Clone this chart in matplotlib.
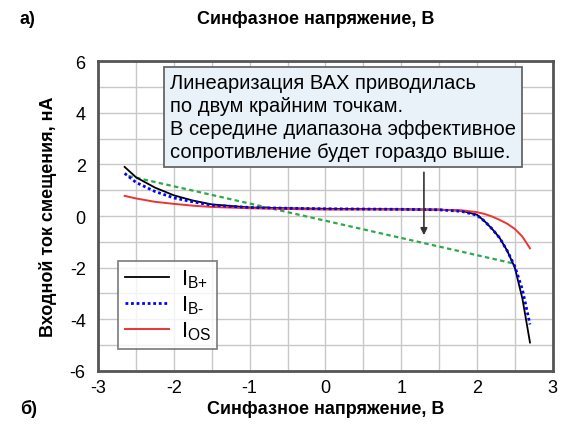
import matplotlib.pyplot as plt
import numpy as np

plt.rcParams['font.family'] = ['Liberation Sans', 'DejaVu Sans']
plt.rcParams['mathtext.fontset'] = 'custom'
plt.rcParams['mathtext.rm'] = 'Liberation Sans'

# data
x_v = [-2.65, -2.5, -2.25, -2.0, -1.75, -1.5, -1.0, -0.5, 0.0, 0.5, 1.0, 1.5,
       1.8, 2.0, 2.1, 2.2, 2.3, 2.4, 2.5, 2.6, 2.7]
ib_plus = [1.9, 1.5, 1.1, 0.8, 0.6, 0.45, 0.33, 0.3, 0.28, 0.27, 0.26, 0.25,
           0.2, 0.05, -0.2, -0.5, -0.85, -1.35, -2.0, -3.2, -4.9]
ib_minus = [1.65, 1.3, 0.95, 0.7, 0.55, 0.42, 0.33, 0.3, 0.28, 0.27, 0.26, 0.24,
            0.18, 0.03, -0.2, -0.5, -0.85, -1.35, -1.95, -2.85, -4.2]
i_os = [0.78, 0.68, 0.55, 0.47, 0.4, 0.35, 0.3, 0.27, 0.25, 0.25, 0.25, 0.24,
        0.22, 0.15, 0.08, -0.02, -0.15, -0.3, -0.5, -0.8, -1.25]
lin_x = [-2.6, 2.5]
lin_y = [1.55, -1.85]

fig = plt.figure(figsize=(5.64, 4.31), dpi=100)
ax = fig.add_axes([0.174, 0.137, 0.806, 0.719])

ax.plot(lin_x, lin_y, color='#2ea84a', lw=1.6, ls=(0, (2, 1.5)), zorder=3)
l1, = ax.plot(x_v, ib_plus, color='black', lw=1.3, zorder=4,
              label='$\\mathregular{I_{B\\text{+}}}$')
l2, = ax.plot(x_v, ib_minus, color='blue', lw=2.0, ls=(0, (1, 1)), zorder=5,
              label='$\\mathregular{I_{B\\text{-}}}$')
l3, = ax.plot(x_v, i_os, color='#ee3333', lw=1.4, zorder=4,
              label='$\\mathregular{I_{OS}}$')

ax.set_xlim(-3, 3)
ax.set_ylim(-6, 6)
ax.set_xticks(np.arange(-3, 4, 1))
ax.set_xticks(np.arange(-3, 3.1, 0.5), minor=True)
ax.set_yticks(np.arange(-6, 7, 2))
ax.set_yticks(np.arange(-6, 7, 1), minor=True)
ax.set_xticklabels(['-3', '-2', '-1', '0', '1', '2', '3'])
ax.set_yticklabels(['-6', '-4', '-2', '0', '2', '4', '6'])
ax.tick_params(which='both', length=0, labelsize=13)
ax.tick_params(axis='y', pad=9)
ax.tick_params(axis='x', pad=6)
ax.grid(which='both', color='#c8c8c8', lw=1.0)
ax.set_axisbelow(True)
for s in ax.spines.values():
    s.set_color('#555555')
    s.set_linewidth(2)

ax.set_ylabel('Входной ток смещения, нА', fontsize=13, fontweight='bold', labelpad=9)
ax.set_xlabel('Синфазное напряжение, В', fontsize=13, fontweight='bold', labelpad=3)

leg = ax.legend(handles=[l1, l2, l3], loc='lower left', bbox_to_anchor=(0.02, 0.035),
                fontsize=16, frameon=True, fancybox=False, handlelength=2.0,
                handletextpad=0.5, borderpad=0.3, labelspacing=0.15)
leg.get_frame().set_edgecolor('#666666')
leg.get_frame().set_linewidth(1.3)

ax.annotate('', xy=(1.3, -0.85), xytext=(1.3, 1.8),
            arrowprops=dict(arrowstyle='-|>', color='#333333', lw=1.2, mutation_scale=10), zorder=6)
ax.text(-2.05, 5.55, 'Линеаризация ВАХ приводилась\nпо двум крайним точкам.\n'
        'В середине диапазона эффективное\nсопротивление будет гораздо выше.',
        fontsize=14.5, va='top', ha='left', linespacing=1.28, zorder=7,
        bbox=dict(boxstyle='square,pad=0.3', fc='#e9f2f9', ec='#666666', lw=1.3))

fig.text(0.035, 0.955, 'а)', fontsize=13, fontweight='bold', va='center')
fig.text(0.56, 0.955, 'Синфазное напряжение, В', fontsize=13, fontweight='bold',
         va='center', ha='center')
fig.text(0.035, 0.05, 'б)', fontsize=13, fontweight='bold', va='center')

fig.savefig('out.png', dpi=100)
